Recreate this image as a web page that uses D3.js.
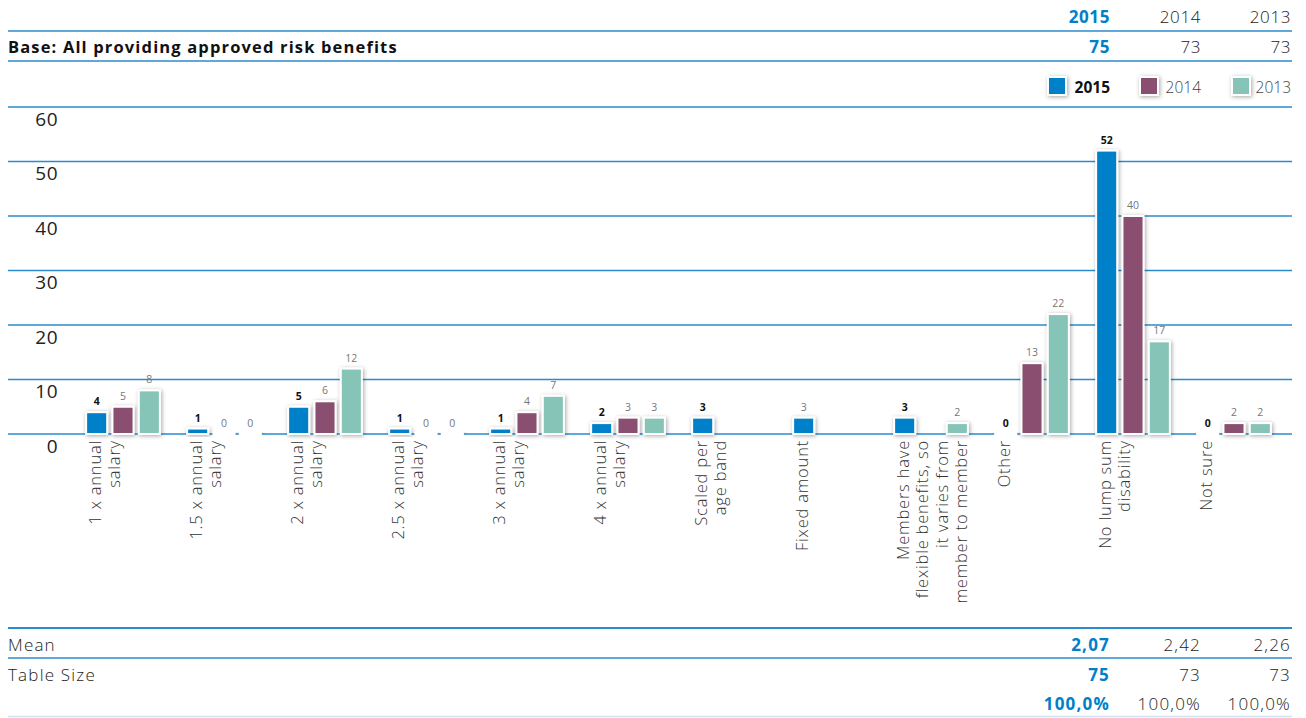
<!DOCTYPE html>
<html>
<head>
<meta charset="utf-8">
<script src="https://cdn.jsdelivr.net/npm/d3@7/dist/d3.min.js"></script>
<style>
  html, body { margin: 0; padding: 0; background: #fff; }
  svg { display: block; font-family: "Open Sans", Lato, sans-serif; }
</style>
</head>
<body>
<svg id="chart" width="1306" height="718"></svg>
<script>
// Risk benefit categories (line breaks mark wrapped axis labels)
const categories = [
  "1 x annual|salary",
  "1.5 x annual|salary",
  "2 x annual|salary",
  "2.5 x annual|salary",
  "3 x annual|salary",
  "4 x annual|salary",
  "Scaled per|age band",
  "Fixed amount",
  "Members have|flexible benefits, so|it varies from|member to member",
  "Other",
  "No lump sum|disability",
  "Not sure"
];
const seriesNames = ["2015", "2014", "2013"];
// null = no value reported for that year
const values2015 = [4, 1, 5, 1, 1, 2, 3, 3, 3, 0, 52, 0];
const values2014 = [5, 0, 6, 0, 4, 3, null, null, null, 13, 40, 2];
const values2013 = [8, 0, 12, 0, 7, 3, null, null, 2, 22, 17, 2];
const yTicks = [0, 10, 20, 30, 40, 50, 60];
// summary table rows
const baseLabel = "Base: All providing approved risk benefits";
const baseValues = ["75", "73", "73"];
const meanValues = ["2,07", "2,42", "2,26"];
const tableSizeValues = ["75", "73", "73"];
const percentValues = ["100,0%", "100,0%", "100,0%"];
// categories whose 2015 value label is shown in plain style
const plainLabel2015 = new Set(["Fixed amount"]);

const colors = { "2015": "#0080c9", "2014": "#8a4f6f", "2013": "#86c4b7" };
const lineBlue = "#2a8bcd";
const seriesValues = { "2015": values2015, "2014": values2014, "2013": values2013 };

const svg = d3.select("#chart");

// soft drop shadow for bars and legend swatches
const defs = svg.append("defs");
const f = defs.append("filter").attr("id", "shadow")
  .attr("x", "-50%").attr("y", "-50%").attr("width", "200%").attr("height", "200%");
f.append("feDropShadow").attr("dx", 1).attr("dy", 1).attr("stdDeviation", 2.2)
  .attr("flood-color", "#000").attr("flood-opacity", 0.35);

const left = 8, right = 1292;
const colRight = { "2015": 1110, "2014": 1201, "2013": 1291 };

// ---- header table ----
function hline(y, color, w) {
  svg.append("line").attr("x1", left).attr("x2", right).attr("y1", y).attr("y2", y)
    .attr("stroke", color).attr("stroke-width", w);
}
function rowValues(y, vals, size, spacing) {
  seriesNames.forEach((s, i) => {
    svg.append("text").attr("x", colRight[s]).attr("y", y)
      .attr("text-anchor", "end").attr("font-size", size)
      .attr("font-weight", i === 0 ? 700 : 300)
      .attr("letter-spacing", spacing)
      .attr("fill", i === 0 ? colors["2015"] : "#222")
      .text(vals[i]);
  });
}
rowValues(23, seriesNames, 17, 0.6);
hline(31, lineBlue, 1.5);
svg.append("text").attr("x", left).attr("y", 53).attr("font-size", 16.5)
  .attr("font-weight", 700).attr("letter-spacing", 1.15).attr("fill", "#111").text(baseLabel);
rowValues(53, baseValues, 17, 0.6);
hline(61, lineBlue, 1.5);

// legend
const legendX = { "2015": 1048, "2014": 1140, "2013": 1232 };
seriesNames.forEach((s, i) => {
  svg.append("rect").attr("x", legendX[s]).attr("y", 77).attr("width", 18).attr("height", 18)
    .attr("fill", colors[s]).attr("stroke", "#fff").attr("stroke-width", 2)
    .attr("filter", "url(#shadow)");
  svg.append("text").attr("x", colRight[s]).attr("y", 93).attr("text-anchor", "end")
    .attr("font-size", 15.5).attr("font-weight", i === 0 ? 700 : 300)
    .attr("fill", i === 0 ? "#111" : "#444").text(s);
});

// ---- chart ----
const y = d3.scaleLinear().domain([0, 60]).range([434, 107]);
const x = d3.scaleBand().domain(categories).range([72.5, 1284.5]).paddingInner(0).paddingOuter(0);
const xs = d3.scaleBand().domain(seriesNames).range([11, 90]).paddingInner(0.2).paddingOuter(0.1);

// gridlines
svg.append("g").selectAll("line").data(yTicks).join("line")
  .attr("x1", left).attr("x2", right)
  .attr("y1", d => y(d)).attr("y2", d => y(d))
  .attr("stroke", lineBlue).attr("stroke-width", 1.5);

// y tick labels
svg.append("g").selectAll("text").data(yTicks).join("text")
  .attr("x", 58).attr("y", d => y(d) + 12).attr("dy", "0.35em")
  .attr("text-anchor", "end").attr("font-size", 19).attr("font-weight", 400)
  .attr("letter-spacing", 0.5).attr("fill", "#222")
  .text(d => d);

// bars
const barData = [];
categories.forEach((c, ci) => {
  seriesNames.forEach(s => {
    const v = seriesValues[s][ci];
    if (v !== null) barData.push({ cat: c, series: s, value: v });
  });
});

const gBars = svg.append("g");
gBars.selectAll("rect").data(barData).join("rect")
  .attr("x", d => x(d.cat) + xs(d.series))
  .attr("width", xs.bandwidth())
  .attr("y", d => Math.min(y(d.value), y(0) - 1))
  .attr("height", d => Math.max(y(0) - y(d.value), 1))
  .attr("fill", d => colors[d.series])
  .attr("stroke", "#fff").attr("stroke-width", 2)
  .attr("filter", "url(#shadow)");

// value labels
svg.append("g").selectAll("text").data(barData).join("text")
  .attr("x", d => x(d.cat) + xs(d.series) + xs.bandwidth() / 2)
  .attr("y", d => y(d.value) - 7)
  .attr("text-anchor", "middle").attr("font-size", 10.5)
  .attr("font-weight", d => (d.series === "2015" && !plainLabel2015.has(d.cat)) ? 700 : 400)
  .attr("fill", d => (d.series === "2015" && !plainLabel2015.has(d.cat)) ? "#111" : "#777")
  .text(d => d.value);

// category labels, rotated, each line right-aligned at the top
const gx = svg.append("g");
categories.forEach(c => {
  const cx = x(c) + xs("2015") + xs.bandwidth() / 2 + 4;
  const t = gx.append("text")
    .attr("transform", `translate(${cx},440) rotate(-90)`)
    .attr("text-anchor", "end").attr("font-size", 16.5).attr("font-weight", 300)
    .attr("letter-spacing", 0.8).attr("fill", "#333");
  c.split("|").forEach((line, i) => {
    t.append("tspan").attr("x", 0).attr("y", i * 19.5).text(line);
  });
});

// ---- footer table ----
hline(628, lineBlue, 2);
svg.append("text").attr("x", left).attr("y", 651).attr("font-size", 17)
  .attr("font-weight", 300).attr("letter-spacing", 1.2).attr("fill", "#222").text("Mean");
rowValues(651, meanValues, 17, 1.2);
hline(658, lineBlue, 1.5);
svg.append("text").attr("x", left).attr("y", 681).attr("font-size", 17)
  .attr("font-weight", 300).attr("letter-spacing", 1.2).attr("fill", "#222").text("Table Size");
rowValues(681, tableSizeValues, 17, 1.2);
rowValues(710, percentValues, 17, 1.2);
hline(716.5, "#cfe2f1", 1.5);
</script>
</body>
</html>
